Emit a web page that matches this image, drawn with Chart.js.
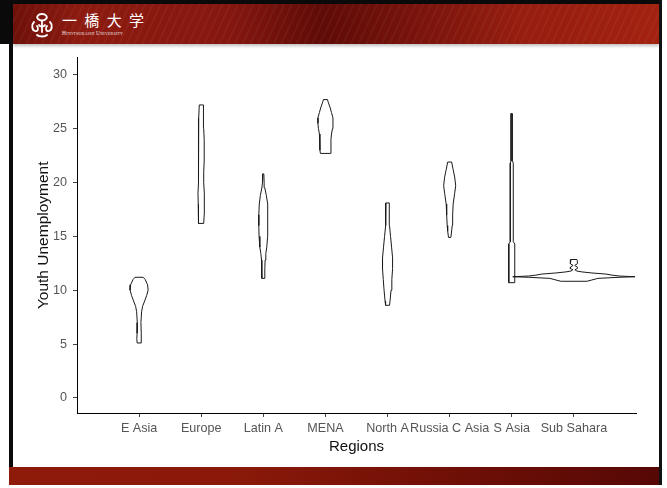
<!DOCTYPE html>
<html>
<head>
<meta charset="utf-8">
<script src="https://cdn.jsdelivr.net/npm/chart.js@4.4.0/dist/chart.umd.min.js"></script>
<style>
  html, body { margin: 0; padding: 0; background: #fff; }
  body { width: 667px; height: 488px; position: relative; overflow: hidden; }
  .frame-top { position: absolute; left: 0; top: 0; width: 662px; height: 4px; background: #0a0a0a; }
  .frame-left-top { position: absolute; left: 0; top: 0; width: 13px; height: 44px; background: #0a0a0a; }
  .frame-left { position: absolute; left: 9px; top: 44px; width: 4px; height: 423px; background: #0a0a0a; }
  .frame-right { position: absolute; left: 659px; top: 0; width: 3px; height: 485px; background: #111; }
  .header {
    position: absolute; left: 13px; top: 4px; width: 646px; height: 40px;
    background:
      repeating-linear-gradient(115deg, rgba(255,255,255,0.035) 0 2px, rgba(0,0,0,0) 2px 7px),
      linear-gradient(90deg, #6e1009 0%, #8c1a10 10%, #86170f 33%, #5f0b07 48%, #74120b 60%, #951d10 78%, #a3210f 100%);
    box-shadow: 0 2px 3px rgba(0,0,0,0.25);
  }
  .emblem { position: absolute; left: 17px; top: 8px; }
  .jp {
    position: absolute; left: 49px; top: 7px; color: #fff;
    font-family: "Noto Sans CJK JP", sans-serif; font-size: 15px; letter-spacing: 2px; line-height: 18px;
  }
  .en {
    position: absolute; left: 49px; top: 26px; color: #f2e6e4;
    font-family: "Liberation Serif", serif; font-size: 5.5px; letter-spacing: 0.2px; font-variant: small-caps;
  }
  .footer {
    position: absolute; left: 9px; top: 467px; width: 650px; height: 18px;
    background: linear-gradient(90deg, #8e1a0a 0%, #8a1909 35%, #6e0f06 70%, #560806 100%);
  }
  .plot { position: absolute; left: 13px; top: 44px; width: 646px; height: 423px; }
</style>
</head>
<body>
<div class="frame-top"></div>
<div class="frame-left-top"></div>
<div class="header">
  <svg class="emblem" width="24" height="26" viewBox="0 0 24 26">
    <g fill="none" stroke="#fff" stroke-width="1.8" stroke-linecap="round">
      <path d="M12 2 C8 2 6 5 8 7 C10 9 14 9 16 7 C18 5 16 2 12 2"/>
      <path d="M4 10 C1 13 2 18 5 19 C8 20 9 16 7 14"/>
      <path d="M20 10 C23 13 22 18 19 19 C16 20 15 16 17 14"/>
      <path d="M12 9 L12 20"/>
      <path d="M7 23 C9 25 15 25 17 23"/>
      <path d="M9 13 C10 15 14 15 15 13"/>
    </g>
  </svg>
  <div class="jp">一 橋 大 学</div>
  <div class="en">Hitotsubashi University</div>
</div>
<div class="frame-left"></div>
<div class="frame-right"></div>
<div class="footer"></div>
<div class="plot"><canvas id="chart" width="646" height="423"></canvas></div>

<script>
// Regions on the x axis and y tick values
const regions = ['E Asia', 'Europe', 'Latin A', 'MENA', 'North A', 'Russia C Asia', 'S Asia', 'Sub Sahara'];
const regionPos = [1, 2, 3, 4, 5, 6, 7, 8];
const yTicks = [0, 5, 10, 15, 20, 25, 30];

// Violin outlines: [youth unemployment, half width in category units]
const eAsia = [[5.1, .032], [5.5, .037], [6, .032], [7, .029], [8, .040], [8.5, .056], [9, .089], [9.5, .121], [10, .145], [10.5, .137], [11, .097], [11.2, .065]];
const europe = [[16.2, .040], [17, .048], [18, .048], [19, .052], [20, .040], [21, .040], [22, .048], [23, .048], [24, .048], [25, .040], [26, .040], [27.2, .032]];
const latinA = [[11.1, .024], [12, .024], [12.8, .029], [13.4, .040], [14, .056], [15, .069], [16, .073], [17, .073], [18, .065], [18.8, .048], [19.5, .024], [20, .013], [20.8, .008]];
const mena = [[22.7, .081], [23, .089], [23.5, .089], [24, .089], [24.5, .097], [25, .113], [25.5, .121], [26, .121], [26.5, .097], [27, .073], [27.4, .048], [27.7, .032]];
const northA = [[8.6, .032], [9, .040], [10, .056], [11, .069], [12, .081], [13, .081], [14, .065], [15, .048], [16, .032], [17, .029], [18.1, .027]];
const russiaCAsia = [[14.9, .019], [15.5, .032], [16, .040], [17, .048], [18, .056], [19, .081], [19.7, .097], [20.5, .081], [21.2, .056], [21.9, .032]];
const sAsia = [[10.7, .048], [14.3, .048], [14.5, .024], [21.8, .024], [22, .011], [26.4, .011]];
const subSahara = [[10.83, .210], [10.95, .290], [11.1, .387], [11.2, .726], [11.25, .984], [11.32, .726], [11.4, .613], [11.5, .516], [11.6, .290], [11.7, .129], [11.78, .048], [11.9, .016], [12.0, .056], [12.15, .056], [12.3, .013], [12.45, .056], [12.7, .056], [12.85, .048]];

const violins = [eAsia, europe, latinA, mena, northA, russiaCAsia, sAsia, subSahara];

// closed outline: right side upwards, left side back down
function outline(profile, centre) {
    const right = profile.map(([v, w]) => ({ x: centre + w, y: v }));
    const left = profile.slice().reverse().map(([v, w]) => ({ x: centre - w, y: v }));
    return right.concat(left, [right[0]]);
}

const datasets = violins.map((profile, i) => ({
    label: regions[i],
    data: outline(profile, regionPos[i]),
    showLine: true,
    fill: false,
    borderColor: '#1a1a1a',
    borderWidth: 1,
    pointRadius: 0,
    tension: 0
}));

const font = "'Liberation Sans', Arial, sans-serif";

new Chart(document.getElementById('chart').getContext('2d'), {
    type: 'scatter',
    data: { datasets },
    options: {
        responsive: false,
        animation: false,
        layout: { padding: { top: 13, right: 23, left: 0, bottom: 0 } },
        plugins: { legend: { display: false }, tooltip: { enabled: false } },
        scales: {
            x: {
                type: 'linear',
                min: 0,
                max: 9,
                afterBuildTicks: (scale) => { scale.ticks = regionPos.map(v => ({ value: v })); },
                afterFit: (scale) => { scale.height = 54; },
                ticks: {
                    autoSkip: false,
                    maxRotation: 0,
                    padding: 4,
                    color: '#555',
                    font: { family: font, size: 12.6 },
                    callback: (v) => regions[regionPos.indexOf(v)]
                },
                grid: { display: true, drawOnChartArea: false, drawTicks: true, tickLength: 4, color: '#444' },
                border: { display: true, color: '#000', width: 1 },
                title: {
                    display: true,
                    text: 'Regions',
                    color: '#111',
                    font: { family: font, size: 15 },
                    padding: { top: 0, bottom: 11 }
                }
            },
            y: {
                type: 'linear',
                min: -1.4,
                max: 31.6,
                afterBuildTicks: (scale) => { scale.ticks = yTicks.map(v => ({ value: v })); },
                afterFit: (scale) => { scale.width = 64; },
                ticks: {
                    padding: 6,
                    color: '#555',
                    font: { family: font, size: 12.6 }
                },
                grid: { display: true, drawOnChartArea: false, drawTicks: true, tickLength: 4, color: '#444' },
                border: { display: true, color: '#000', width: 1 },
                title: {
                    display: true,
                    text: 'Youth Unemployment',
                    color: '#111',
                    font: { family: font, size: 15.5 },
                    padding: { top: 21, bottom: 0 }
                }
            }
        }
    }
});
</script>
</body>
</html>
